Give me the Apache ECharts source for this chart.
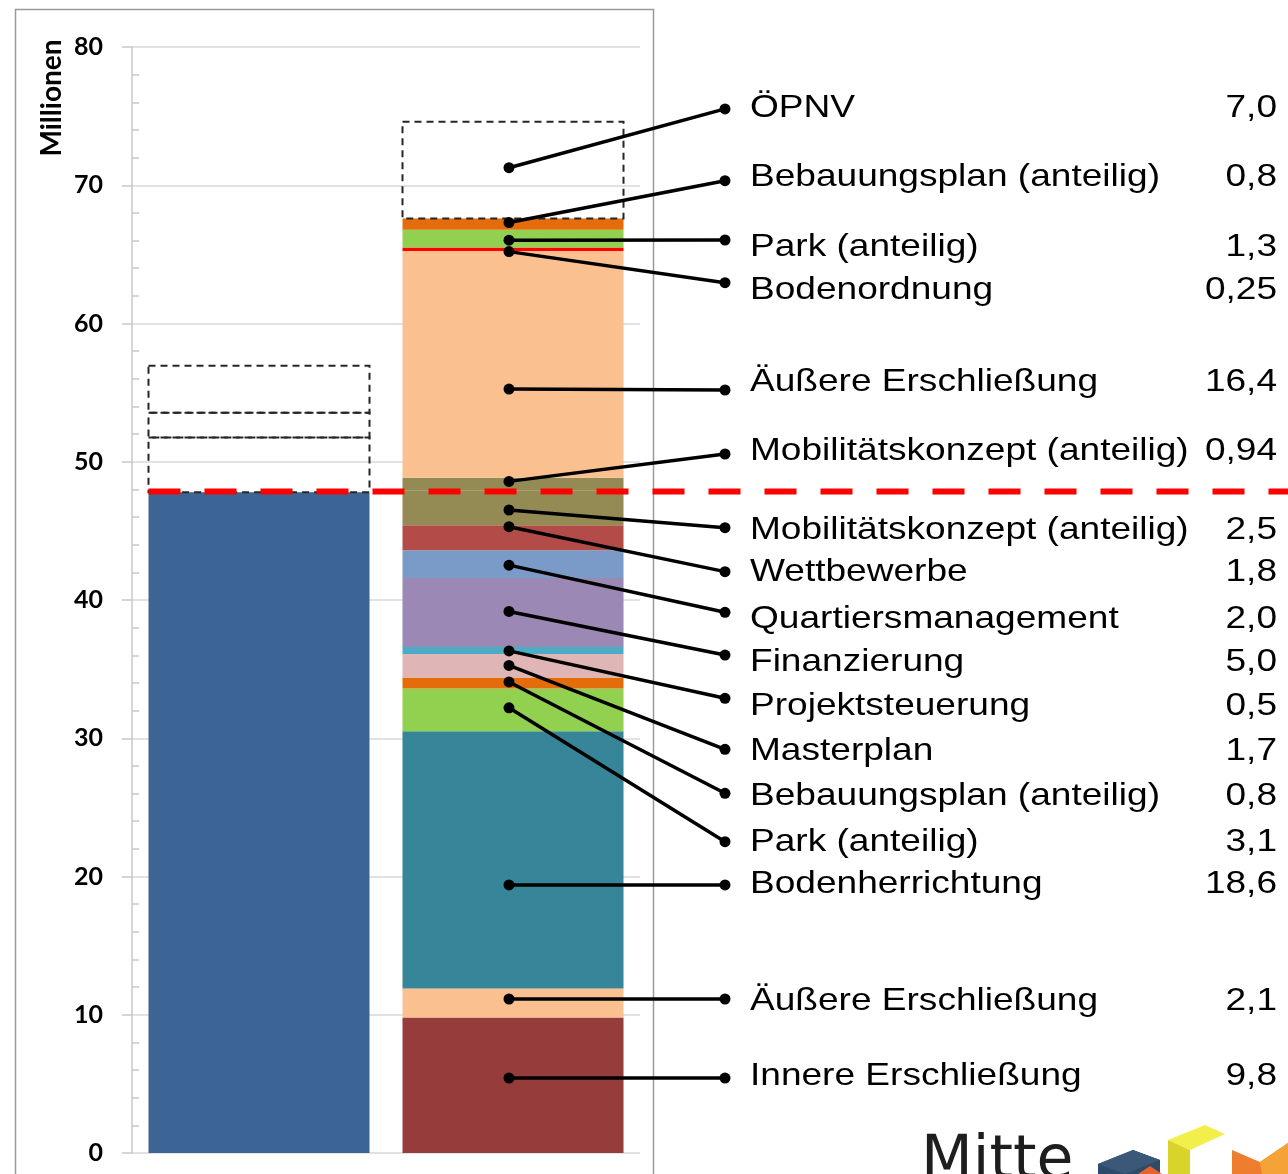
<!DOCTYPE html>
<html>
<head>
<meta charset="utf-8">
<script src="https://cdn.jsdelivr.net/npm/echarts@6/dist/echarts.min.js"></script>
<style>
html,body{margin:0;padding:0;background:#fff;}
#chart{width:1288px;height:1174px;}
</style>
</head>
<body>
<div id="chart"></div>
<script>
// ---------- data ----------
const categories = ['Finanzierung', 'Kosten'];
const yTicks = [0, 10, 20, 30, 40, 50, 60, 70, 80];

// left column: financed amount + dashed reserves
const leftNames = ['Finanziert', 'Reserve A', 'Reserve B', 'Reserve C'];
const leftValues = [47.8, 3.95, 1.8, 3.4];
const leftDashed = [false, true, true, true];

// right column, bottom to top
const costNames = [
  'Innere Erschließung', 'Äußere Erschließung', 'Bodenherrichtung', 'Park (anteilig)',
  'Bebauungsplan (anteilig)', 'Masterplan', 'Projektsteuerung', 'Finanzierung',
  'Quartiersmanagement', 'Wettbewerbe', 'Mobilitätskonzept (anteilig)', 'Mobilitätskonzept (anteilig)',
  'Äußere Erschließung', 'Bodenordnung', 'Park (anteilig)', 'Bebauungsplan (anteilig)', 'ÖPNV'
];
const costValues = [9.8, 2.1, 18.6, 3.1, 0.8, 1.7, 0.5, 5.0, 2.0, 1.8, 2.5, 0.94, 16.4, 0.25, 1.3, 0.8, 7.0];
const costValueLabels = ['9,8', '2,1', '18,6', '3,1', '0,8', '1,7', '0,5', '5,0', '2,0', '1,8', '2,5', '0,94', '16,4', '0,25', '1,3', '0,8', '7,0'];
const costDashed = [false, false, false, false, false, false, false, false, false, false, false, false, false, false, false, false, true];
// where each leader line touches the column (value units)
const anchorValues = [5.42, 11.14, 19.39, 32.2, 34.07, 35.27, 36.32, 39.17, 42.52, 45.3, 46.51, 48.58, 55.26, 65.2, 66.03, 67.3, 71.27];
// where each leader line ends at its label (value units on the same scale)
const labelValues = [5.42, 11.14, 19.39, 22.52, 26.02, 29.2, 32.89, 36.02, 39.11, 42.05, 45.23, 50.56, 55.19, 62.95, 66.04, 70.33, 75.52];
// threshold line
const thresholdValue = [47.85];

// ---------- styles / layout ----------
const leftColors = ['#3C6494', null, null, null];
const costColors = ['#963C3B', '#FAC090', '#378599', '#92D050', '#E46C0A', '#DFB5B5', '#4BACC6', '#9C88B4',
  '#7A9BC8', '#B34B48', '#948A54', '#948A54', '#FAC090', '#FF0000', '#92D050', '#E46C0A', null];
// vertical pixel nudge of each text relative to its leader end
const textNudge = [-2, 2, -1, 1, 2.5, 1.5, 7.4, 7.5, 7.2, 0.3, 2.5, -2.5, -7.5, 7, 6.7, -4, -1];

const BAR_W = 221;
const LABEL_FONT = '32px "Liberation Sans", Arial, sans-serif';
const LABEL_SCALE_X = 1.158;

function barStyle(c) {
  if (!c) return { color: 'rgba(255,255,255,0)', borderWidth: 0 };
  return { color: c, borderWidth: 0 };
}

const series = [];
leftValues.forEach((v, i) => {
  series.push({
    name: leftNames[i], type: 'bar', stack: 'total', barWidth: BAR_W,
    data: [v, '-'], itemStyle: barStyle(leftColors[i]), emphasis: { disabled: true }
  });
});
costValues.forEach((v, i) => {
  series.push({
    name: costNames[i] + ' ' + i, type: 'bar', stack: 'total', barWidth: BAR_W,
    data: ['-', v], itemStyle: barStyle(costColors[i]), emphasis: { disabled: true }
  });
});

// dashed outlines for the open segments
function dashedBoxes(cat, values, flags) {
  const out = [];
  let acc = 0;
  values.forEach((v, i) => {
    if (flags[i]) out.push([cat, acc, acc + v]);
    acc += v;
  });
  return out;
}
series.push({
  type: 'custom', name: 'Offen', clip: false, z: 4, silent: true,
  data: dashedBoxes(0, leftValues, leftDashed).concat(dashedBoxes(1, costValues, costDashed)),
  renderItem: function (params, api) {
    const pb = api.coord([api.value(0), api.value(1)]);
    const pt = api.coord([api.value(0), api.value(2)]);
    return {
      type: 'rect',
      shape: { x: pb[0] - BAR_W / 2, y: pt[1], width: BAR_W, height: pb[1] - pt[1] },
      style: { fill: 'none', stroke: '#262626', lineWidth: 2, lineDash: [7, 5] }
    };
  }
});

// red dashed threshold line
series.push({
  type: 'custom', name: 'Schwelle', clip: false, z: 5, silent: true,
  data: thresholdValue.map(v => [0, v]),
  renderItem: function (params, api) {
    const p = api.coord([api.value(0), api.value(1)]);
    return {
      type: 'line',
      shape: { x1: p[0] - BAR_W / 2, y1: p[1], x2: 1288, y2: p[1] },
      style: { stroke: '#FF0000', lineWidth: 6, lineDash: [32, 24] }
    };
  }
});

// leader lines + labels
series.push({
  type: 'custom', name: 'Beschriftung', clip: false, z: 10, silent: true,
  data: costValues.map((v, i) => [1, anchorValues[i], labelValues[i]]),
  renderItem: function (params, api) {
    const i = params.dataIndex;
    const p0 = api.coord([api.value(0), api.value(1)]);
    const p1 = api.coord([api.value(0), api.value(2)]);
    const x0 = p0[0] - 4, y0 = p0[1];
    const x1 = 725, y1 = p1[1];
    const ty = y1 + textNudge[i];
    return {
      type: 'group',
      children: [
        { type: 'line', shape: { x1: x0, y1: y0, x2: x1, y2: y1 }, style: { stroke: '#000', lineWidth: 3.5 } },
        { type: 'circle', shape: { cx: x0, cy: y0, r: 5.5 }, style: { fill: '#000' } },
        { type: 'circle', shape: { cx: x1, cy: y1, r: 5.5 }, style: { fill: '#000' } },
        { type: 'text', x: 750, y: ty, scaleX: LABEL_SCALE_X, style: { text: costNames[i], font: LABEL_FONT, fill: '#000', align: 'left', verticalAlign: 'middle' } },
        { type: 'text', x: 1277, y: ty, scaleX: LABEL_SCALE_X, style: { text: costValueLabels[i], font: LABEL_FONT, fill: '#000', align: 'right', verticalAlign: 'middle' } }
      ]
    };
  }
});

const chart = echarts.init(document.getElementById('chart'), null, { renderer: 'canvas' });
chart.setOption({
  animation: false,
  backgroundColor: '#fff',
  grid: { left: 132, right: 648, top: 47, bottom: 21, containLabel: false },
  xAxis: {
    type: 'category', data: categories,
    axisLine: { show: false }, axisTick: { show: false }, axisLabel: { show: false }
  },
  yAxis: [
    {
      type: 'value', min: yTicks[0], max: yTicks[yTicks.length - 1], interval: 10, position: 'left',
      axisLine: { show: true, lineStyle: { color: '#C8C8C8', width: 1.5 } },
      axisTick: { show: true, inside: false, length: 10, lineStyle: { color: '#C8C8C8', width: 1.5 } },
      axisLabel: { margin: 29, color: '#000', fontFamily: 'Lato', fontWeight: 'bold', fontSize: 25 },
      splitLine: { show: true, lineStyle: { color: '#D9D9D9', width: 1.5 } }
    },
    {
      type: 'value', min: yTicks[0], max: yTicks[yTicks.length - 1], interval: 10, position: 'left', offset: 0,
      axisLine: { show: false }, axisLabel: { show: false }, splitLine: { show: false },
      axisTick: { show: false, inside: true },
      minorTick: { show: true, splitNumber: 5, length: 7, lineStyle: { color: '#C8C8C8', width: 1.5 } }
    }
  ],
  series: series,
  graphic: [
    { type: 'rect', shape: { x: 15.5, y: 9.5, width: 638, height: 1220 }, style: { fill: 'none', stroke: '#9A9A9A', lineWidth: 1.5 }, z: 0, silent: true },
    { type: 'text', x: 52, y: 98, rotation: Math.PI / 2, style: { text: 'Millionen', font: 'bold 28px Lato', fill: '#000', align: 'center', verticalAlign: 'middle' }, silent: true },
    // logo
    { type: 'text', x: 921, y: 1162, style: { text: 'Mitte', font: '60px "DejaVu Sans"', fill: '#1E1E1E', align: 'left', verticalAlign: 'middle' }, silent: true, z: 20 },
    { type: 'polygon', shape: { points: [[1098, 1164], [1133, 1150], [1160, 1160], [1160, 1174], [1098, 1174]] }, style: { fill: '#2F4B6C' }, silent: true },
    { type: 'polygon', shape: { points: [[1098, 1164], [1133, 1150], [1160, 1160], [1125, 1174]] }, style: { fill: '#3B5878' }, silent: true },
    { type: 'polygon', shape: { points: [[1138, 1174], [1150, 1166], [1162, 1174]] }, style: { fill: '#E8622C' }, silent: true },
    { type: 'polygon', shape: { points: [[1168, 1140], [1205, 1125], [1225, 1134], [1190, 1150]] }, style: { fill: '#F2EE4A' }, silent: true },
    { type: 'polygon', shape: { points: [[1168, 1140], [1190, 1150], [1190, 1174], [1168, 1174]] }, style: { fill: '#D9D42A' }, silent: true },
    { type: 'polygon', shape: { points: [[1232, 1150], [1260, 1162], [1288, 1143], [1288, 1174], [1232, 1174]] }, style: { fill: '#EF7D2E' }, silent: true },
    { type: 'polygon', shape: { points: [[1260, 1162], [1288, 1143], [1288, 1174], [1262, 1174]] }, style: { fill: '#F5A236' }, silent: true }
  ]
});
</script>
</body>
</html>
